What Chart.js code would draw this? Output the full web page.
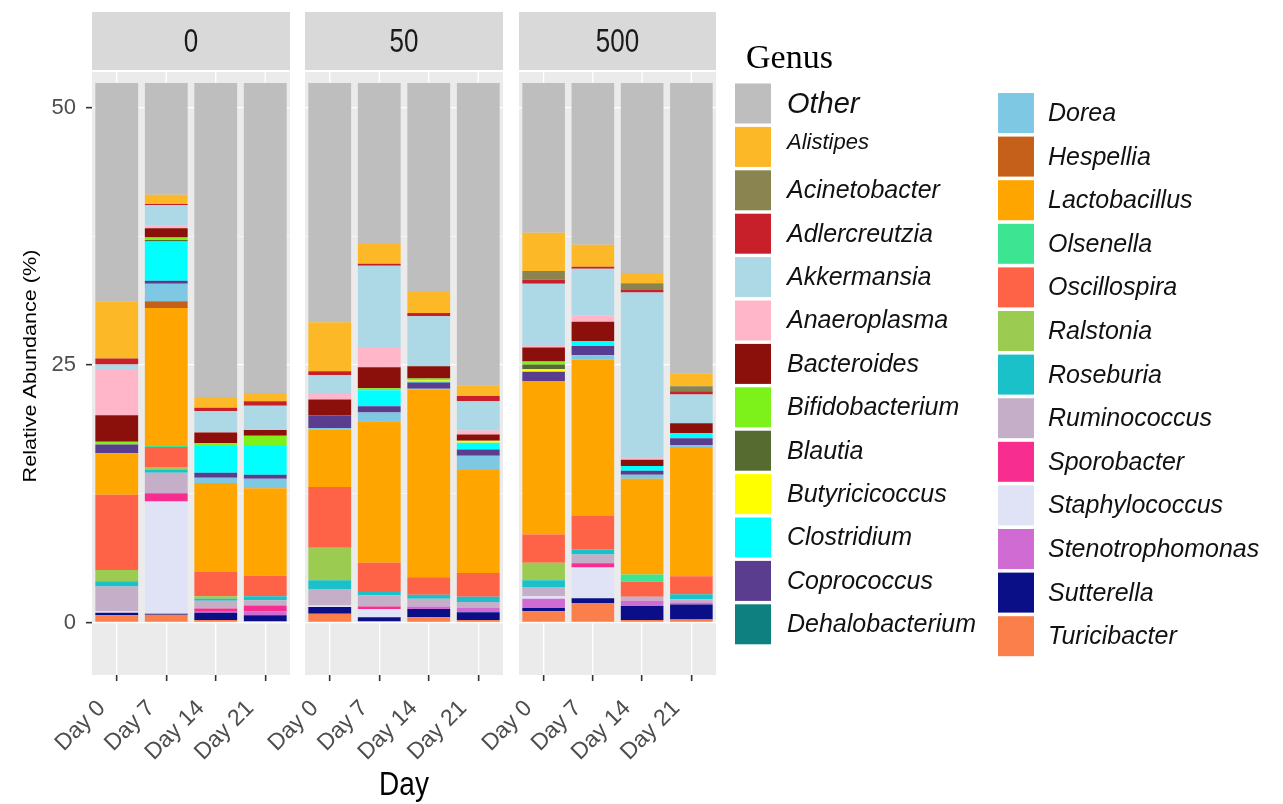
<!DOCTYPE html>
<html>
<head>
<meta charset="utf-8">
<title>Relative abundance by genus</title>
<script src="https://cdn.jsdelivr.net/npm/chart.js@4/dist/chart.umd.min.js"></script>
<style>
  html, body { margin: 0; padding: 0; background: #ffffff; }
  #wrap { position: relative; width: 1283px; height: 804px; overflow: hidden; }
  #wrap canvas { position: absolute; left: 0; top: 0; }
</style>
</head>
<body>
<div id="wrap">
  <canvas id="facet0" width="1283" height="804"></canvas>
  <canvas id="facet1" width="1283" height="804"></canvas>
  <canvas id="facet2" width="1283" height="804"></canvas>
</div>
<script>
// Facets (dose) and sampling days
const doses = ['0', '50', '500'];
const days = ['Day 0', 'Day 7', 'Day 14', 'Day 21'];

// Genus order as listed in the legend (top of each stack first)
const genera = ['Other', 'Alistipes', 'Acinetobacter', 'Adlercreutzia', 'Akkermansia',
  'Anaeroplasma', 'Bacteroides', 'Bifidobacterium', 'Blautia', 'Butyricicoccus',
  'Clostridium', 'Coprococcus', 'Dehalobacterium', 'Dorea', 'Hespellia', 'Lactobacillus',
  'Olsenella', 'Oscillospira', 'Ralstonia', 'Roseburia', 'Ruminococcus', 'Sporobacter',
  'Staphylococcus', 'Stenotrophomonas', 'Sutterella', 'Turicibacter'];

const genusColors = ['#BEBEBE', '#FCB827', '#8A8550', '#C8202A', '#ADD8E6',
  '#FFB6C8', '#8B0F0A', '#7CF21A', '#556B2F', '#FFFF00',
  '#00FFFF', '#5A3D8E', '#0F8080', '#7EC8E3', '#C5601A', '#FFA500',
  '#3DE592', '#FF6347', '#9BCB50', '#1BC1C9', '#C5AEC8', '#F72E90',
  '#E0E2F5', '#CF6BD3', '#0A0F87', '#FA7F4B'];

// Relative abundance (%), 12 bars each: dose 0 (Day 0,7,14,21), dose 50 (...), dose 500 (...)
const Other            = [68.85, 58.45, 78.10, 77.70, 70.85, 63.15, 67.90, 76.95, 62.15, 63.30, 66.05, 75.85];
const Alistipes        = [5.50, 0.90, 1.05, 0.80, 4.75, 2.00, 2.05, 1.05, 3.70, 2.15, 1.00, 1.20];
const Acinetobacter    = [0, 0, 0, 0, 0, 0, 0, 0, 0.85, 0, 0.65, 0.50];
const Adlercreutzia    = [0.58, 0.10, 0.30, 0.45, 0.35, 0.20, 0.30, 0.50, 0.40, 0.20, 0.25, 0.30];
const Akkermansia      = [0.55, 2.00, 1.95, 2.35, 1.85, 8.00, 4.85, 2.85, 5.95, 4.50, 16.10, 2.80];
const Anaeroplasma     = [4.40, 0.25, 0.15, 0, 0.55, 1.85, 0, 0.40, 0.25, 0.65, 0.15, 0];
const Bacteroides      = [2.56, 0.90, 1.05, 0.55, 1.55, 2.05, 1.20, 0.60, 1.35, 1.85, 0.60, 0.95];
const Bifidobacterium  = [0.26, 0.25, 0.25, 0.90, 0, 0.20, 0.20, 0, 0.30, 0, 0, 0];
const Blautia          = [0, 0.15, 0, 0, 0, 0, 0, 0, 0.45, 0, 0, 0];
const Butyricicoccus   = [0, 0, 0, 0, 0, 0, 0.10, 0.20, 0.25, 0, 0, 0];
const Clostridium      = [0, 3.80, 2.60, 2.90, 0, 1.55, 0.10, 0.65, 0, 0.50, 0.45, 0.50];
const Coprococcus      = [0.85, 0.30, 0.50, 0.40, 1.20, 0.60, 0.60, 0.60, 0.90, 0.90, 0.40, 0.65];
const Dehalobacterium  = [0, 0, 0, 0, 0, 0, 0, 0, 0, 0, 0, 0];
const Dorea            = [0, 1.70, 0.50, 0.90, 0.15, 0.85, 0.10, 1.40, 0, 0.40, 0.40, 0.20];
const Hespellia        = [0, 0.65, 0, 0, 0, 0, 0, 0, 0, 0, 0, 0];
const Lactobacillus    = [4.05, 13.40, 8.65, 8.50, 5.60, 13.75, 18.20, 10.00, 14.90, 15.15, 9.30, 12.55];
const Olsenella        = [0, 0.10, 0, 0, 0, 0, 0, 0, 0, 0, 0.70, 0];
const Oscillospira     = [7.30, 1.95, 2.35, 2.00, 5.90, 2.75, 1.70, 2.30, 2.75, 3.30, 1.45, 1.75];
const Ralstonia        = [1.10, 0.30, 0.25, 0, 3.15, 0, 0, 0, 1.70, 0, 0, 0];
const Roseburia        = [0.50, 0.25, 0.20, 0.40, 0.85, 0.40, 0.40, 0.50, 0.65, 0.50, 0, 0.50];
const Ruminococcus     = [2.40, 2.00, 0.75, 0.50, 1.60, 1.10, 0.75, 0.60, 0.90, 0.85, 0.40, 0.30];
const Sporobacter      = [0, 0.80, 0.30, 0.55, 0, 0.25, 0, 0, 0, 0.40, 0, 0];
const Staphylococcus   = [0.15, 10.90, 0, 0, 0.15, 0.80, 0, 0, 0.25, 3.00, 0, 0];
const Stenotrophomonas = [0, 0, 0.10, 0.40, 0, 0, 0.25, 0.40, 0.90, 0, 0.50, 0.20];
const Sutterella       = [0.25, 0.10, 0.70, 0.55, 0.65, 0.35, 0.80, 0.75, 0.30, 0.45, 1.35, 1.45];
const Turicibacter     = [0.70, 0.75, 0.25, 0.15, 0.85, 0.15, 0.50, 0.25, 1.10, 1.90, 0.25, 0.30];

const genusValues = [Other, Alistipes, Acinetobacter, Adlercreutzia, Akkermansia,
  Anaeroplasma, Bacteroides, Bifidobacterium, Blautia, Butyricicoccus,
  Clostridium, Coprococcus, Dehalobacterium, Dorea, Hespellia, Lactobacillus,
  Olsenella, Oscillospira, Ralstonia, Roseburia, Ruminococcus, Sporobacter,
  Staphylococcus, Stenotrophomonas, Sutterella, Turicibacter];

// Page geometry
const W = 1283, H = 804;
const PANEL_LEFT = [92, 305, 519];
const PANEL_RIGHT = [290, 503, 716];
const STRIP_TOP = 12, STRIP_BOTTOM = 70, BAND_TOP = 72, PLOT_TOP = 83, PLOT_BOTTOM = 675;
const Y_MIN = -5.1, Y_MAX = 52.4;
const SANS = '"Liberation Sans", Arial, sans-serif';

// Panel background, facet strip and gridline stubs above the bars
const facetPlugin = {
  id: 'facet',
  beforeDraw(chart, args, opts) {
    const { ctx, chartArea: a, scales: { x } } = chart;
    ctx.save();
    ctx.fillStyle = '#EBEBEB';
    ctx.fillRect(a.left, BAND_TOP, a.right - a.left, a.bottom - BAND_TOP);
    ctx.fillStyle = '#D9D9D9';
    ctx.fillRect(a.left, STRIP_TOP, a.right - a.left, STRIP_BOTTOM - STRIP_TOP);
    ctx.strokeStyle = '#FFFFFF';
    ctx.lineWidth = 1.3;
    x.ticks.forEach((t, i) => {
      const px = x.getPixelForTick(i);
      ctx.beginPath();
      ctx.moveTo(px, BAND_TOP);
      ctx.lineTo(px, a.top);
      ctx.stroke();
    });
    ctx.translate((a.left + a.right) / 2, (STRIP_TOP + STRIP_BOTTOM) / 2 + 2);
    ctx.scale(1, 1.3);
    ctx.fillStyle = '#1A1A1A';
    ctx.font = '26px ' + SANS;
    ctx.textAlign = 'center';
    ctx.textBaseline = 'middle';
    ctx.fillText(opts.label, 0, 0);
    ctx.restore();
  }
};

// Axis titles and the genus legend
const decorPlugin = {
  id: 'decor',
  afterDraw(chart) {
    const ctx = chart.ctx;
    ctx.save();
    ctx.fillStyle = '#000000';
    // x title
    ctx.save();
    ctx.translate((PANEL_LEFT[0] + PANEL_RIGHT[2]) / 2, 795);
    ctx.scale(1, 1.2);
    ctx.font = '28px ' + SANS;
    ctx.textAlign = 'center';
    ctx.textBaseline = 'alphabetic';
    ctx.fillText('Day', 0, 0);
    ctx.restore();
    // y title
    ctx.save();
    ctx.translate(36, 366);
    ctx.rotate(-Math.PI / 2);
    ctx.scale(1.2, 1);
    ctx.font = '18px ' + SANS;
    ctx.textAlign = 'center';
    ctx.textBaseline = 'alphabetic';
    ctx.fillText('Relative Abundance (%)', 0, 0);
    ctx.restore();
    // legend title
    ctx.font = '34px "Liberation Serif", "Times New Roman", serif';
    ctx.textAlign = 'left';
    ctx.textBaseline = 'alphabetic';
    ctx.fillText('Genus', 746, 68);
    // legend keys
    ctx.textBaseline = 'middle';
    genera.forEach((g, i) => {
      const col = i < 13 ? 0 : 1;
      const r = col === 0 ? i : i - 13;
      const kx = col === 0 ? 735 : 998;
      const ky = col === 0 ? 83.5 + r * 43.4 : 93 + r * 43.6;
      const tx = col === 0 ? 787 : 1048;
      ctx.fillStyle = genusColors[i];
      ctx.fillRect(kx, ky, 36, 40);
      ctx.fillStyle = '#111111';
      let size = 25, dy = 1;
      if (g === 'Other') { size = 29; dy = 1; }
      if (g === 'Alistipes') { size = 22; dy = -4; }
      ctx.font = 'italic ' + size + 'px ' + SANS;
      ctx.fillText(g, tx, ky + 20 + dy);
    });
    ctx.restore();
  }
};

function makeFacet(p) {
  const datasets = [];
  // Chart.js stacks the first dataset at the bottom, so go through the legend in reverse
  for (let i = genera.length - 1; i >= 0; i--) {
    datasets.push({
      label: genera[i],
      data: genusValues[i].slice(p * 4, p * 4 + 4),
      backgroundColor: genusColors[i],
      borderWidth: 0,
      barPercentage: 0.865,
      categoryPercentage: 1.0
    });
  }
  const isFirst = p === 0;
  const major = c => c.tick && Math.abs(c.tick.value % 25) < 1e-9;
  return new Chart(document.getElementById('facet' + p), {
    type: 'bar',
    data: { labels: days, datasets },
    options: {
      responsive: false,
      animation: false,
      devicePixelRatio: 1,
      events: [],
      layout: { padding: { left: 0, right: W - PANEL_RIGHT[p], top: PLOT_TOP, bottom: 0 } },
      plugins: {
        legend: { display: false },
        tooltip: { enabled: false },
        facet: { label: doses[p] }
      },
      scales: {
        x: {
          stacked: true,
          offset: true,
          afterFit: s => { s.height = H - PLOT_BOTTOM; },
          border: { display: false },
          grid: { offset: false, color: '#FFFFFF', lineWidth: 1.3, drawTicks: true,
                  tickLength: 6, tickColor: '#333333', tickWidth: 1.6 },
          ticks: { autoSkip: false, minRotation: 45, maxRotation: 45, padding: 14,
                   labelOffset: -15, color: '#4D4D4D', font: { size: 23, family: SANS } }
        },
        y: {
          stacked: true,
          min: Y_MIN,
          max: Y_MAX,
          afterFit: s => { s.width = PANEL_LEFT[p]; },
          border: { display: false },
          grid: {
            color: '#FFFFFF',
            lineWidth: c => major(c) ? 1.3 : 0.6,
            drawTicks: isFirst,
            tickLength: 6,
            tickWidth: 1.6,
            tickColor: c => major(c) ? '#333333' : 'rgba(0,0,0,0)'
          },
          ticks: {
            display: isFirst,
            stepSize: 12.5,
            includeBounds: false,
            autoSkip: false,
            padding: 10,
            color: '#4D4D4D',
            font: { size: 22, family: SANS },
            callback: v => (Math.abs(v % 25) < 1e-9 ? String(v) : '')
          }
        }
      }
    },
    plugins: isFirst ? [facetPlugin, decorPlugin] : [facetPlugin]
  });
}

doses.forEach((d, p) => makeFacet(p));
</script>
</body>
</html>
